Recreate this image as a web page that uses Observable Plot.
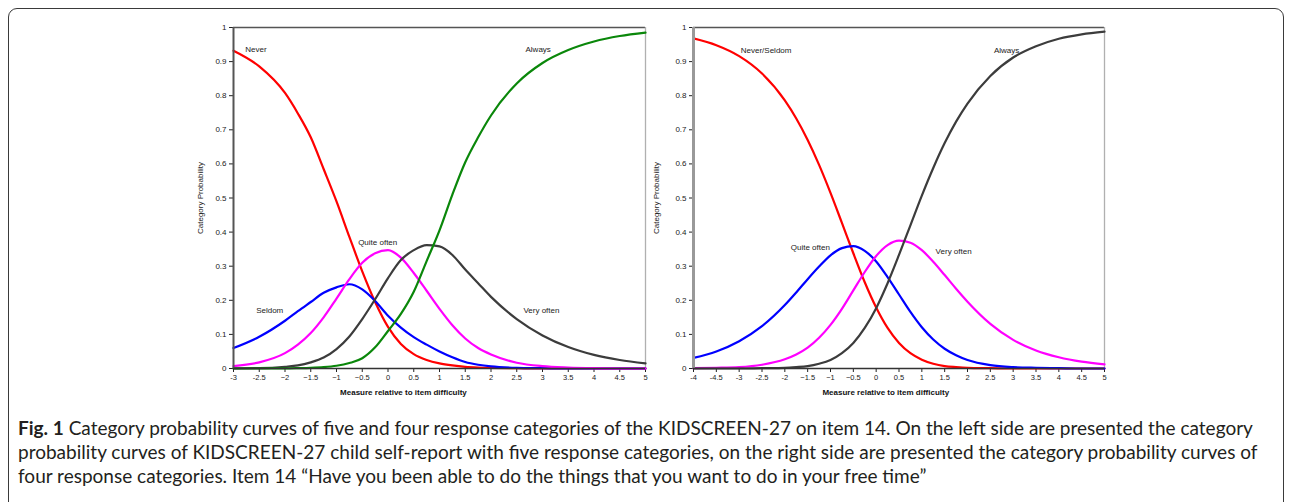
<!DOCTYPE html>
<html>
<head>
<meta charset="utf-8">
<script src="https://cdn.jsdelivr.net/npm/d3@7"></script>
<script src="https://cdn.jsdelivr.net/npm/@observablehq/plot@0.6"></script>
<style>
  html, body { margin: 0; padding: 0; background: #fff; width: 1292px; height: 502px; overflow: hidden; }
  #frame { position: absolute; left: 8px; top: 8px; width: 1274px; height: 510px; border: 1.6px solid #3a3a3a; border-radius: 9px; }
  .chart { position: absolute; top: 15px; }
  #caption { position: absolute; left: 18px; top: 416px; font-family: Lato, "Open Sans", sans-serif; font-size: 18px; line-height: 24px; color: #231f20; white-space: nowrap; }
  #caption div { white-space: nowrap; }
</style>
</head>
<body>
<div id="frame"></div>
<div id="left" class="chart" style="left:180px"></div>
<div id="right" class="chart" style="left:640px"></div>
<div id="caption">
  <div id="c1"><b>Fig. 1</b> Category probability curves of five and four response categories of the KIDSCREEN-27 on item 14. On the left side are presented the category</div>
  <div id="c2">probability curves of KIDSCREEN-27 child self-report with five response categories, on the right side are presented the category probability curves of</div>
  <div id="c3">four response categories. Item 14 “Have you been able to do the things that you want to do in your free time”</div>
</div>
<script>
// ---------- Left chart: five response categories ----------
const xsL = [-3,-2.5,-2,-1.75,-1.5,-1.25,-1,-0.75,-0.5,-0.25,0,0.25,0.5,0.75,1,1.25,1.5,1.75,2,2.5,3,3.5,4,4.5,5];
const neverL  = [0.932,0.886,0.808,0.748,0.678,0.585,0.49,0.386,0.285,0.195,0.122,0.072,0.042,0.025,0.015,0.009,0.005,0.003,0.002,0.001,0,0,0,0,0];
const seldomL = [0.060,0.093,0.140,0.168,0.195,0.222,0.238,0.247,0.232,0.198,0.155,0.12,0.092,0.07,0.05,0.033,0.019,0.011,0.006,0.002,0.001,0,0,0,0];
const quiteL  = [0.007,0.018,0.045,0.07,0.104,0.150,0.205,0.262,0.31,0.338,0.347,0.325,0.28,0.228,0.175,0.127,0.088,0.06,0.041,0.017,0.007,0.003,0.001,0,0];
const veryL   = [0.0003,0.001,0.005,0.009,0.018,0.032,0.057,0.094,0.145,0.203,0.265,0.318,0.347,0.362,0.358,0.333,0.29,0.25,0.21,0.145,0.097,0.063,0.040,0.025,0.015];
const alwaysL = [0,0,0.0003,0.001,0.002,0.004,0.008,0.016,0.03,0.062,0.11,0.16,0.225,0.315,0.405,0.51,0.605,0.678,0.742,0.836,0.896,0.934,0.959,0.975,0.985];
const catsL   = ["Never","Seldom","Quite often","Very often","Always"];
const colorsL = ["#ff0000","#0000ff","#ff00ff","#3c3c3c","#0a870a"];
const xTicksL  = [-3,-2.5,-2,-1.5,-1,-0.5,0,0.5,1,1.5,2,2.5,3,3.5,4,4.5,5];
const xLabelsL = ["-3","-2.5","−2","−1.5","−1","−0.5","0","0.5","1","1.5","2","2.5","3","3.5","4","4.5","5"];
const labelsL = [
  {text: "Never", x: -2.77, y: 0.935},
  {text: "Always", x: 2.67, y: 0.935},
  {text: "Quite often", x: -0.58, y: 0.371},
  {text: "Seldom", x: -2.56, y: 0.171},
  {text: "Very often", x: 2.63, y: 0.171}
];
const xTitleAtL = 0.30;

// ---------- Right chart: four response categories ----------
const xsR = [-4,-3.5,-3,-2.5,-2,-1.75,-1.5,-1.25,-1,-0.75,-0.5,-0.25,0,0.25,0.5,0.75,1,1.25,1.5,1.75,2,2.5,3,3.5,4,4.5,5];
const neverSeldomR = [0.968,0.948,0.916,0.865,0.786,0.733,0.670,0.597,0.515,0.427,0.338,0.253,0.179,0.119,0.075,0.045,0.026,0.014,0.007,0.004,0.002,0.001,0,0,0,0,0];
const quiteR       = [0.031,0.050,0.080,0.124,0.186,0.223,0.262,0.299,0.332,0.353,0.359,0.345,0.314,0.268,0.217,0.166,0.121,0.085,0.058,0.039,0.025,0.010,0.004,0.002,0.001,0,0];
const veryR        = [0.001,0.002,0.004,0.011,0.027,0.041,0.061,0.090,0.128,0.175,0.229,0.283,0.330,0.362,0.375,0.369,0.347,0.313,0.274,0.234,0.196,0.131,0.084,0.053,0.033,0.020,0.012];
const alwaysR      = [0,0,0,0.001,0.002,0.004,0.007,0.014,0.025,0.045,0.075,0.119,0.177,0.250,0.333,0.420,0.507,0.588,0.661,0.724,0.777,0.858,0.912,0.945,0.967,0.980,0.988];
const catsR   = ["Never/Seldom","Quite often","Very often","Always"];
const colorsR = ["#ff0000","#0000ff","#ff00ff","#3c3c3c"];
const xTicksR  = [-4,-3.5,-3,-2.5,-2,-1.5,-1,-0.5,0,0.5,1,1.5,2,2.5,3,3.5,4,4.5,5];
const xLabelsR = ["-4","-4.5","-3","-2.5","-2","−1.5","−1","−0.5","0","0.5","1","1.5","2","2.5","3","3.5","4","4.5","5"];
const labelsR = [
  {text: "Never/Seldom", x: -2.965, y: 0.934},
  {text: "Always", x: 2.578, y: 0.934},
  {text: "Quite often", x: -1.871, y: 0.354},
  {text: "Very often", x: 1.302, y: 0.344}
];
const xTitleAtR = 0.21;

// ---------- shared ----------
const yTicks  = [0,0.1,0.2,0.3,0.4,0.5,0.6,0.7,0.8,0.9,1];
const yLabels = ["0","0.1","0.2","0.3","0.4","0.5","0.6","0.7","0.8","0.9","1"];
const yTitle = "Category Probability";
const xTitle = "Measure relative to item difficulty";

function rows(xs, cats, seriesList) {
  const out = [];
  seriesList.forEach((vals, k) => vals.forEach((p, i) => out.push({x: xs[i], p, cat: cats[k]})));
  return out;
}

function chart({xs, cats, colors, series, xTicks, xLabels, labels, titleAt, marginLeft, marginRight, leftAxisStroke, leftAxisWidth, yLabelOffset}) {
  const data = rows(xs, cats, series);
  const xLab = new Map(xTicks.map((t, i) => [t, xLabels[i]]));
  const yLab = new Map(yTicks.map((t, i) => [t, yLabels[i]]));
  const x0 = xs[0], x1 = xs[xs.length - 1];
  return Plot.plot({
    width: 480,
    height: 388,
    marginLeft, marginRight,
    marginTop: 12,
    marginBottom: 35,
    style: {fontFamily: "'Liberation Sans', Arial, sans-serif", fontSize: "7.5px", color: "#222", background: "transparent", overflow: "visible"},
    x: {type: "linear", domain: [x0, x1]},
    y: {type: "linear", domain: [0, 1]},
    color: {domain: cats, range: colors},
    marks: [
      Plot.ruleY([1], {stroke: "#555", strokeWidth: 1.3}),
      Plot.ruleX([x1], {stroke: "#b0b0b0", strokeWidth: 1.3}),
      Plot.axisY({ticks: yTicks, tickFormat: d => yLab.get(d), tickSize: 4, tickPadding: 3, label: yTitle, labelAnchor: "center", labelArrow: "none", labelOffset: yLabelOffset, fontSize: 8}),
      Plot.axisX({ticks: xTicks, tickFormat: d => xLab.get(d), tickSize: 4, tickPadding: 2, label: null, fontSize: 7.5}),
      Plot.line(data, {x: "x", y: "p", z: "cat", stroke: "cat", curve: "monotone-x", strokeWidth: 2.2}),
      Plot.ruleX([x0], {stroke: leftAxisStroke, strokeWidth: leftAxisWidth}),
      Plot.ruleY([0], {stroke: "#333", strokeWidth: 1.5}),
      Plot.text(labels, {x: "x", y: "y", text: "text", textAnchor: "start", fontSize: 8, fill: "#222"}),
      Plot.text([xTitle], {x: titleAt, frameAnchor: "bottom", dy: 26, fontWeight: "bold", fontSize: 8, fill: "#111"})
    ]
  });
}

document.getElementById("left").append(chart({
  xs: xsL, cats: catsL, colors: colorsL,
  series: [neverL, seldomL, quiteL, veryL, alwaysL],
  xTicks: xTicksL, xLabels: xLabelsL, labels: labelsL, titleAt: xTitleAtL,
  marginLeft: 53, marginRight: 15, leftAxisStroke: "#555", leftAxisWidth: 2, yLabelOffset: 36
}));
document.getElementById("right").append(chart({
  xs: xsR, cats: catsR, colors: colorsR,
  series: [neverSeldomR, quiteR, veryR, alwaysR],
  xTicks: xTicksR, xLabels: xLabelsR, labels: labelsR, titleAt: xTitleAtR,
  marginLeft: 53, marginRight: 16, leftAxisStroke: "#999", leftAxisWidth: 3, yLabelOffset: 40
}));

// fit caption lines to the reference widths
(function () {
  const c1 = document.getElementById("c1");
  const w = c1.getBoundingClientRect().width;
  const target = 1240;
  const fs = 18 * target / w;
  document.getElementById("caption").style.fontSize = fs.toFixed(2) + "px";
})();
</script>
</body>
</html>
